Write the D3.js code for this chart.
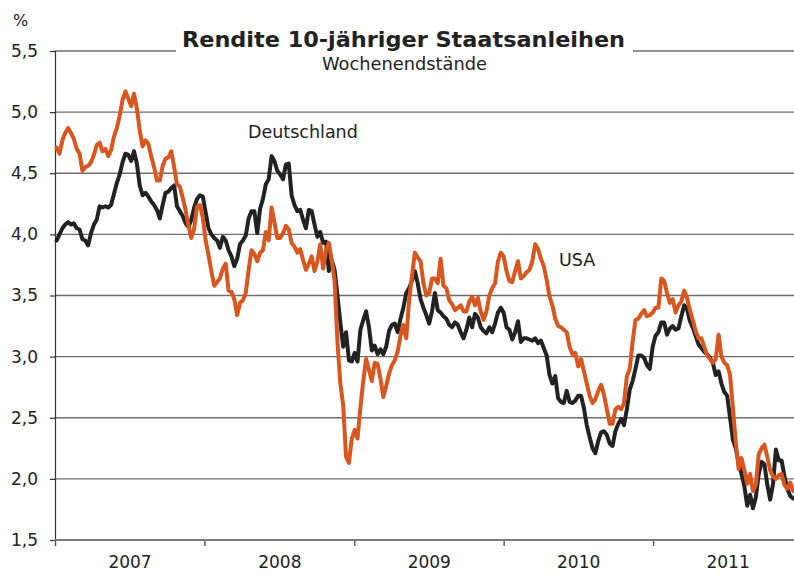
<!DOCTYPE html>
<html>
<head>
<meta charset="utf-8">
<script src="https://cdn.jsdelivr.net/npm/d3@7"></script>
<style>
  html, body { margin: 0; padding: 0; background: #fff; }
  svg { display: block; }
  text { font-family: "DejaVu Sans", Verdana, sans-serif; fill: #222; }
</style>
</head>
<body>
<svg id="chart" width="794" height="574"></svg>
<script>
// ---------- data ----------
const firstWeek = "2007-01-05";           // weekly end-of-week observations
const yearTicks = [2007, 2008, 2009, 2010, 2011];
const yTicks = [1.5, 2.0, 2.5, 3.0, 3.5, 4.0, 4.5, 5.0, 5.5];
const titleText = "Rendite 10-jähriger Staatsanleihen";
const subtitleText = "Wochenendstände";
const unitText = "%";
const seriesNames = ["Deutschland", "USA"];

const germany = [
3.95,4.00,4.05,4.08,4.10,4.08,4.09,4.05,4.04,3.96,3.95,3.91,4.01,4.08,4.12,4.23,4.22,4.23,4.22,4.24,
4.33,4.42,4.49,4.59,4.66,4.65,4.60,4.68,4.58,4.40,4.32,4.34,4.31,4.27,4.24,4.20,4.13,4.24,4.34,4.35,
4.38,4.40,4.23,4.19,4.15,4.09,4.06,4.12,4.22,4.29,4.32,4.31,4.18,4.05,4.00,3.97,3.95,3.89,3.98,3.95,
3.87,3.82,3.74,3.80,3.92,3.95,3.99,4.13,4.19,4.19,4.01,4.21,4.29,4.41,4.45,4.64,4.60,4.52,4.49,4.45,
4.57,4.58,4.32,4.24,4.19,4.20,4.12,4.05,4.20,4.19,4.08,3.98,4.02,3.93,3.94,3.70,3.79,3.71,3.50,3.28,
3.08,3.20,2.97,2.96,3.03,2.96,3.22,3.30,3.37,3.24,3.05,3.09,3.02,3.06,3.02,3.08,3.21,3.26,3.27,3.20,
3.31,3.40,3.52,3.56,3.62,3.70,3.60,3.47,3.40,3.34,3.27,3.37,3.52,3.38,3.36,3.33,3.31,3.26,3.24,3.28,
3.26,3.20,3.15,3.22,3.32,3.24,3.35,3.32,3.24,3.21,3.19,3.24,3.20,3.27,3.36,3.40,3.36,3.24,3.22,3.14,
3.20,3.29,3.12,3.15,3.15,3.14,3.13,3.15,3.11,3.13,3.07,3.01,2.85,2.78,2.84,2.66,2.63,2.62,2.72,2.63,
2.62,2.64,2.68,2.68,2.58,2.44,2.34,2.25,2.21,2.31,2.38,2.39,2.36,2.29,2.27,2.39,2.45,2.49,2.44,2.57,
2.73,2.80,2.90,3.01,3.01,2.99,2.93,2.90,3.08,3.17,3.20,3.28,3.28,3.18,3.23,3.25,3.22,3.23,3.33,3.42,
3.39,3.29,3.24,3.17,3.10,3.07,3.04,3.02,2.99,2.95,2.85,2.88,2.78,2.71,2.68,2.50,2.32,2.25,2.13,2.04,
1.94,1.78,1.87,1.76,1.85,2.04,2.14,2.12,1.95,1.83,1.96,2.24,2.15,2.15,2.02,1.92,1.86,1.84];

const usa = [
4.71,4.66,4.77,4.83,4.87,4.83,4.78,4.70,4.66,4.52,4.55,4.56,4.59,4.65,4.73,4.75,4.68,4.70,4.64,4.69,
4.80,4.87,4.97,5.10,5.17,5.11,5.05,5.15,5.03,4.85,4.72,4.77,4.74,4.64,4.55,4.44,4.44,4.56,4.62,4.63,
4.68,4.55,4.41,4.39,4.30,4.20,4.07,3.97,4.05,4.23,4.24,4.14,3.95,3.83,3.70,3.58,3.61,3.64,3.72,3.76,
3.54,3.53,3.47,3.34,3.44,3.46,3.52,3.71,3.87,3.84,3.78,3.85,3.87,4.02,3.95,4.22,4.10,3.97,3.97,4.01,
4.07,4.04,3.93,3.90,3.85,3.88,3.79,3.71,3.76,3.82,3.70,3.78,3.92,3.72,3.87,3.93,3.79,3.62,3.12,2.78,
2.60,2.18,2.13,2.33,2.40,2.33,2.58,2.80,2.98,2.89,2.80,2.95,2.94,2.82,2.67,2.76,2.86,2.93,2.97,3.04,
3.17,3.26,3.15,3.46,3.66,3.85,3.81,3.78,3.60,3.50,3.52,3.64,3.64,3.60,3.80,3.58,3.56,3.46,3.43,3.38,
3.40,3.42,3.37,3.37,3.45,3.49,3.42,3.48,3.37,3.30,3.37,3.50,3.56,3.60,3.78,3.85,3.82,3.70,3.62,3.61,
3.70,3.78,3.64,3.66,3.69,3.71,3.78,3.92,3.88,3.80,3.74,3.63,3.49,3.42,3.31,3.25,3.24,3.22,3.20,3.08,
3.02,3.03,2.92,2.98,2.88,2.78,2.68,2.62,2.65,2.72,2.77,2.69,2.57,2.45,2.45,2.57,2.59,2.57,2.62,2.84,
2.90,3.12,3.30,3.31,3.35,3.38,3.33,3.34,3.36,3.40,3.40,3.64,3.62,3.52,3.44,3.47,3.36,3.42,3.45,3.54,
3.48,3.38,3.30,3.21,3.15,3.15,3.08,3.01,2.98,2.95,2.98,3.18,3.00,2.95,2.93,2.85,2.58,2.30,2.08,2.17,
2.07,1.96,2.04,1.90,1.95,2.20,2.25,2.28,2.18,2.07,2.02,2.00,2.03,2.04,1.95,1.92,1.97,1.90];

// ---------- chart ----------
const W = 794, H = 574;
const svg = d3.select("#chart");
const parse = d3.timeParse("%Y-%m-%d");
const start = parse(firstWeek);
const dates = germany.map((_, i) => d3.timeWeek.offset(start, i));

const x = d3.scaleTime()
  .domain([new Date(2007, 0, 1), new Date(2012, 0, 1)])
  .range([55, 802.5]);
const y = d3.scaleLinear().domain([1.5, 5.5]).range([540, 51]);

const comma = v => d3.format(".1f")(v).replace(".", ",");

// gridlines
svg.append("g").selectAll("line")
  .data(yTicks.filter(v => v > 1.5))
  .join("line")
  .attr("x1", 55).attr("x2", W)
  .attr("y1", d => y(d)).attr("y2", d => y(d))
  .attr("stroke", "#6e6e6e").attr("stroke-width", 1.4);

// y axis
const yAxis = svg.append("g")
  .attr("transform", "translate(55,0)")
  .call(d3.axisLeft(y).tickValues(yTicks).tickFormat(comma).tickSize(5).tickPadding(12));
yAxis.select(".domain").attr("stroke", "#333").attr("stroke-width", 1.2);
yAxis.selectAll(".tick line").attr("stroke", "#333").attr("stroke-width", 1.2);
yAxis.selectAll("text").attr("font-size", 17).attr("font-family", "DejaVu Sans").attr("fill", "#222");

// x axis (ticks at year boundaries)
const xAxis = svg.append("g")
  .attr("transform", "translate(0,540)")
  .call(d3.axisBottom(x).tickValues(yearTicks.map(yr => new Date(yr, 0, 1))).tickSize(6).tickFormat(""));
xAxis.select(".domain").remove();
xAxis.selectAll(".tick line").attr("stroke", "#555").attr("stroke-width", 1.4);
svg.append("line")
  .attr("x1", 55).attr("x2", W).attr("y1", 540).attr("y2", 540)
  .attr("stroke", "#7a7a7a").attr("stroke-width", 2.2);

// year labels centered in each year
const xLab = svg.append("g")
  .attr("transform", "translate(0,540)")
  .call(d3.axisBottom(x).tickValues(yearTicks.map(yr => new Date(yr, 6, 2))).tickSize(0).tickPadding(16).tickFormat(d3.timeFormat("%Y")));
xLab.select(".domain").remove();
xLab.selectAll("text").attr("font-size", 17).attr("font-family", "DejaVu Sans").attr("fill", "#222");

// lines
const line = vals => d3.line()
  .x((d, i) => x(dates[i]))
  .y(d => y(d))
  .curve(d3.curveLinear)(vals);

svg.append("path").attr("d", line(germany))
  .attr("fill", "none").attr("stroke", "#222").attr("stroke-width", 4)
  .attr("stroke-linejoin", "round").attr("stroke-linecap", "round");
svg.append("path").attr("d", line(usa))
  .attr("fill", "none").attr("stroke", "#DA561F").attr("stroke-width", 4)
  .attr("stroke-linejoin", "round").attr("stroke-linecap", "round");

// title block
svg.append("rect").attr("x", 176).attr("y", 30).attr("width", 457).attr("height", 30).attr("fill", "#fff");
svg.append("text").attr("x", 182).attr("y", 47)
  .attr("font-size", 21).attr("font-weight", "bold")
  .attr("textLength", 443).attr("lengthAdjust", "spacingAndGlyphs").text(titleText);
svg.append("text").attr("x", 322).attr("y", 70)
  .attr("font-size", 17)
  .attr("textLength", 165).attr("lengthAdjust", "spacingAndGlyphs").text(subtitleText);
svg.append("text").attr("x", 13).attr("y", 26).attr("font-size", 16).text(unitText);

// series labels
svg.append("text").attr("x", 248).attr("y", 138).attr("font-size", 17.5).text(seriesNames[0]);
svg.append("text").attr("x", 559).attr("y", 266).attr("font-size", 17.5).text(seriesNames[1]);
</script>
</body>
</html>
